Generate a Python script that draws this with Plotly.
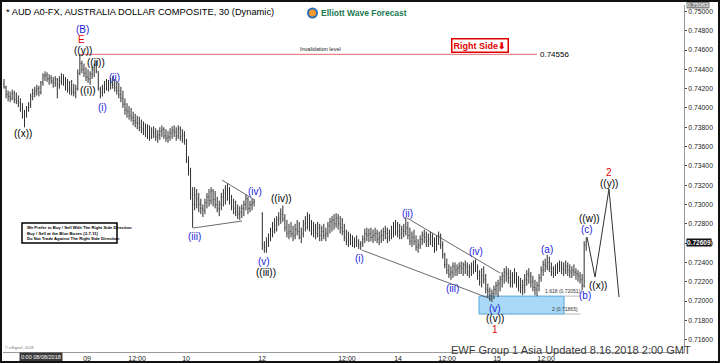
import plotly.graph_objects as go

# ---------------- data (AUD A0-FX, 30 min bars) ----------------
# session 1: Aug 8 - Aug 10, session 2: Aug 12 - Aug 16 (bar index positions)
sess1_start = 0
sess2_start = 126

open_1 = [0.7425,0.7422,0.7414,0.7412,0.7410,0.7415,0.7409,0.7407,0.7405,0.7400,0.7392,0.7393,0.7400,0.7403,0.7412,0.7415,0.7418,0.7420,0.7416,0.7426,
          0.7433,0.7434,0.7430,0.7431,0.7428,0.7426,0.7430,0.7424,0.7428,0.7431,0.7426,0.7422,0.7420,0.7419,0.7417,0.7416,0.7420,0.7436,0.7446,0.7440,
          0.7436,0.7432,0.7430,0.7435,0.7440,0.7444,0.7438,0.7420,0.7416,0.7420,0.7424,0.7422,0.7426,0.7425,0.7424,0.7421,0.7418,0.7414,0.7410,0.7404,
          0.7398,0.7396,0.7392,0.7390,0.7387,0.7385,0.7384,0.7380,0.7378,0.7376,0.7375,0.7372,0.7370,0.7376,0.7374,0.7370,0.7372,0.7376,0.7378,0.7371,
          0.7369,0.7370,0.7374,0.7377,0.7375,0.7371,0.7378,0.7370,0.7372,0.7366,0.7347,0.7334,0.7310,0.7300,0.7310,0.7306,0.7300,0.7296,0.7294,0.7302,
          0.7308,0.7304,0.7314,0.7305,0.7300,0.7296,0.7300,0.7308,0.7312,0.7316,0.7310,0.7304,0.7298,0.7296,0.7292,0.7290,0.7292,0.7296,0.7300,0.7306,
          0.7296,0.7300,0.7302]
high_1 = [0.7430,0.7423,0.7418,0.7417,0.7419,0.7418,0.7416,0.7413,0.7410,0.7405,0.7398,0.7402,0.7406,0.7415,0.7420,0.7422,0.7424,0.7423,0.7428,0.7436,
          0.7438,0.7437,0.7435,0.7434,0.7432,0.7433,0.7431,0.7433,0.7436,0.7435,0.7432,0.7430,0.7428,0.7429,0.7425,0.7424,0.7440,0.7456,0.7449,0.7446,
          0.7442,0.7440,0.7438,0.7443,0.7446,0.7449,0.7438,0.7422,0.7424,0.7428,0.7430,0.7429,0.7431,0.7433,0.7430,0.7428,0.7426,0.7422,0.7418,0.7410,
          0.7405,0.7402,0.7400,0.7396,0.7394,0.7392,0.7391,0.7388,0.7386,0.7384,0.7383,0.7382,0.7380,0.7381,0.7379,0.7377,0.7380,0.7382,0.7380,0.7378,
          0.7376,0.7379,0.7381,0.7382,0.7380,0.7382,0.7381,0.7378,0.7376,0.7368,0.7350,0.7338,0.7318,0.7318,0.7316,0.7312,0.7306,0.7300,0.7306,0.7312,
          0.7316,0.7318,0.7316,0.7314,0.7308,0.7304,0.7312,0.7316,0.7320,0.7322,0.7318,0.7310,0.7306,0.7304,0.7300,0.7298,0.7300,0.7304,0.7310,0.7308,
          0.7304,0.7306,0.7305]
low_1 = [0.7420,0.7410,0.7407,0.7406,0.7408,0.7405,0.7404,0.7401,0.7396,0.7389,0.7380,0.7390,0.7396,0.7400,0.7408,0.7411,0.7413,0.7412,0.7414,0.7423,
         0.7428,0.7427,0.7424,0.7425,0.7421,0.7422,0.7410,0.7420,0.7424,0.7423,0.7418,0.7416,0.7414,0.7413,0.7412,0.7410,0.7418,0.7434,0.7436,0.7432,
         0.7428,0.7426,0.7424,0.7430,0.7432,0.7436,0.7418,0.7410,0.7412,0.7415,0.7418,0.7417,0.7419,0.7420,0.7417,0.7414,0.7410,0.7406,0.7400,0.7393,
         0.7390,0.7388,0.7386,0.7382,0.7380,0.7378,0.7376,0.7374,0.7372,0.7370,0.7368,0.7366,0.7368,0.7369,0.7366,0.7364,0.7367,0.7370,0.7368,0.7365,
         0.7364,0.7366,0.7368,0.7370,0.7366,0.7368,0.7366,0.7364,0.7362,0.7343,0.7330,0.7305,0.7276,0.7294,0.7296,0.7292,0.7290,0.7287,0.7290,0.7296,
         0.7298,0.7300,0.7298,0.7296,0.7292,0.7288,0.7294,0.7298,0.7300,0.7304,0.7300,0.7294,0.7290,0.7288,0.7285,0.7284,0.7286,0.7288,0.7294,0.7290,
         0.7292,0.7294,0.7298]
close_1 = [0.7422,0.7414,0.7412,0.7410,0.7415,0.7409,0.7407,0.7405,0.7400,0.7392,0.7393,0.7400,0.7403,0.7412,0.7415,0.7418,0.7420,0.7416,0.7426,0.7433,
           0.7434,0.7430,0.7431,0.7428,0.7426,0.7430,0.7424,0.7428,0.7431,0.7426,0.7422,0.7420,0.7419,0.7417,0.7416,0.7420,0.7436,0.7446,0.7440,0.7436,
           0.7432,0.7430,0.7435,0.7440,0.7444,0.7438,0.7420,0.7416,0.7420,0.7424,0.7422,0.7426,0.7425,0.7424,0.7421,0.7418,0.7414,0.7410,0.7404,0.7398,
           0.7396,0.7392,0.7390,0.7387,0.7385,0.7384,0.7380,0.7378,0.7376,0.7375,0.7372,0.7370,0.7376,0.7374,0.7370,0.7372,0.7376,0.7378,0.7371,0.7369,
           0.7370,0.7374,0.7377,0.7375,0.7371,0.7378,0.7370,0.7372,0.7366,0.7347,0.7334,0.7310,0.7300,0.7310,0.7306,0.7300,0.7296,0.7294,0.7302,0.7308,
           0.7304,0.7314,0.7305,0.7300,0.7296,0.7300,0.7308,0.7312,0.7316,0.7310,0.7304,0.7298,0.7296,0.7292,0.7290,0.7292,0.7296,0.7300,0.7306,0.7296,
           0.7300,0.7302,0.7303]

open_2 = [0.7290,0.7258,0.7256,0.7262,0.7266,0.7272,0.7278,0.7274,0.7284,0.7286,0.7290,0.7285,0.7276,0.7270,0.7272,0.7270,0.7268,0.7274,0.7272,0.7266,
          0.7270,0.7280,0.7276,0.7286,0.7278,0.7272,0.7274,0.7270,0.7276,0.7268,0.7272,0.7268,0.7270,0.7278,0.7282,0.7284,0.7280,0.7286,0.7280,0.7276,
          0.7272,0.7266,0.7262,0.7264,0.7262,0.7260,0.7262,0.7260,0.7258,0.7260,0.7264,0.7270,0.7268,0.7270,0.7266,0.7268,0.7270,0.7264,0.7266,0.7268,
          0.7272,0.7270,0.7266,0.7270,0.7274,0.7278,0.7280,0.7272,0.7270,0.7274,0.7272,0.7276,0.7268,0.7262,0.7266,0.7262,0.7256,0.7258,0.7264,0.7268,
          0.7266,0.7262,0.7264,0.7266,0.7260,0.7254,0.7264,0.7268,0.7258,0.7248,0.7238,0.7232,0.7228,0.7230,0.7236,0.7232,0.7234,0.7236,0.7234,0.7238,
          0.7236,0.7230,0.7234,0.7236,0.7238,0.7234,0.7226,0.7220,0.7226,0.7222,0.7212,0.7210,0.7206,0.7208,0.7212,0.7216,0.7218,0.7222,0.7226,0.7230,
          0.7228,0.7224,0.7220,0.7226,0.7228,0.7218,0.7216,0.7214,0.7216,0.7222,0.7228,0.7226,0.7220,0.7214,0.7212,0.7216,0.7224,0.7232,0.7238,0.7236,
          0.7240,0.7234,0.7230,0.7232,0.7234,0.7236,0.7238,0.7234,0.7232,0.7236,0.7232,0.7230,0.7232,0.7230,0.7228,0.7226,0.7222,0.7216,0.7258]
high_2 = [0.7292,0.7262,0.7266,0.7270,0.7276,0.7282,0.7286,0.7288,0.7292,0.7296,0.7299,0.7290,0.7284,0.7280,0.7282,0.7278,0.7280,0.7284,0.7282,0.7276,
          0.7284,0.7288,0.7292,0.7290,0.7284,0.7282,0.7280,0.7282,0.7280,0.7278,0.7280,0.7276,0.7282,0.7286,0.7288,0.7290,0.7291,0.7290,0.7288,0.7286,
          0.7280,0.7274,0.7272,0.7270,0.7268,0.7266,0.7268,0.7264,0.7262,0.7268,0.7275,0.7276,0.7275,0.7276,0.7274,0.7276,0.7274,0.7272,0.7274,0.7276,
          0.7278,0.7276,0.7274,0.7278,0.7282,0.7284,0.7282,0.7280,0.7278,0.7280,0.7287,0.7282,0.7276,0.7272,0.7274,0.7268,0.7264,0.7268,0.7272,0.7274,
          0.7272,0.7270,0.7272,0.7270,0.7266,0.7268,0.7272,0.7270,0.7262,0.7250,0.7244,0.7238,0.7236,0.7240,0.7240,0.7238,0.7240,0.7241,0.7240,0.7242,
          0.7240,0.7238,0.7240,0.7242,0.7243,0.7238,0.7232,0.7234,0.7236,0.7228,0.7218,0.7214,0.7212,0.7216,0.7220,0.7222,0.7226,0.7230,0.7234,0.7236,
          0.7234,0.7232,0.7230,0.7234,0.7230,0.7226,0.7224,0.7222,0.7228,0.7232,0.7234,0.7230,0.7226,0.7222,0.7220,0.7228,0.7236,0.7242,0.7244,0.7248,
          0.7246,0.7240,0.7236,0.7238,0.7240,0.7242,0.7241,0.7240,0.7242,0.7240,0.7238,0.7236,0.7238,0.7234,0.7232,0.7230,0.7228,0.7262,0.7266]
low_2 = [0.7253,0.7250,0.7250,0.7256,0.7262,0.7266,0.7270,0.7272,0.7278,0.7280,0.7282,0.7272,0.7266,0.7264,0.7266,0.7262,0.7264,0.7268,0.7264,0.7260,
         0.7266,0.7272,0.7274,0.7272,0.7268,0.7266,0.7264,0.7266,0.7262,0.7262,0.7264,0.7262,0.7266,0.7270,0.7272,0.7274,0.7276,0.7274,0.7270,0.7268,
         0.7262,0.7258,0.7256,0.7258,0.7256,0.7255,0.7256,0.7254,0.7253,0.7256,0.7260,0.7262,0.7261,0.7262,0.7260,0.7262,0.7260,0.7258,0.7260,0.7262,
         0.7264,0.7260,0.7262,0.7264,0.7266,0.7268,0.7266,0.7264,0.7264,0.7266,0.7268,0.7264,0.7258,0.7256,0.7258,0.7252,0.7250,0.7254,0.7258,0.7260,
         0.7256,0.7256,0.7258,0.7256,0.7250,0.7252,0.7258,0.7254,0.7244,0.7234,0.7228,0.7224,0.7222,0.7224,0.7226,0.7226,0.7228,0.7228,0.7226,0.7228,
         0.7226,0.7224,0.7226,0.7228,0.7230,0.7222,0.7216,0.7214,0.7218,0.7208,0.7204,0.7200,0.7199,0.7202,0.7206,0.7204,0.7210,0.7214,0.7218,0.7220,
         0.7218,0.7214,0.7214,0.7218,0.7214,0.7210,0.7208,0.7206,0.7208,0.7216,0.7218,0.7214,0.7210,0.7206,0.7205,0.7210,0.7220,0.7226,0.7230,0.7232,
         0.7230,0.7226,0.7224,0.7226,0.7228,0.7230,0.7228,0.7226,0.7228,0.7226,0.7224,0.7224,0.7226,0.7222,0.7220,0.7218,0.7211,0.7214,0.7252]
close_2 = [0.7258,0.7256,0.7262,0.7266,0.7272,0.7278,0.7274,0.7284,0.7286,0.7290,0.7285,0.7276,0.7270,0.7272,0.7270,0.7268,0.7274,0.7272,0.7266,0.7270,
           0.7280,0.7276,0.7286,0.7278,0.7272,0.7274,0.7270,0.7276,0.7268,0.7272,0.7268,0.7270,0.7278,0.7282,0.7284,0.7280,0.7286,0.7280,0.7276,0.7272,
           0.7266,0.7262,0.7264,0.7262,0.7260,0.7262,0.7260,0.7258,0.7260,0.7264,0.7270,0.7268,0.7270,0.7266,0.7268,0.7270,0.7264,0.7266,0.7268,0.7272,
           0.7270,0.7266,0.7270,0.7274,0.7278,0.7280,0.7272,0.7270,0.7274,0.7272,0.7276,0.7268,0.7262,0.7266,0.7262,0.7256,0.7258,0.7264,0.7268,0.7266,
           0.7262,0.7264,0.7266,0.7260,0.7254,0.7264,0.7268,0.7258,0.7248,0.7238,0.7232,0.7228,0.7230,0.7236,0.7232,0.7234,0.7236,0.7234,0.7238,0.7236,
           0.7230,0.7234,0.7236,0.7238,0.7234,0.7226,0.7220,0.7226,0.7222,0.7212,0.7210,0.7206,0.7208,0.7212,0.7216,0.7218,0.7222,0.7226,0.7230,0.7228,
           0.7224,0.7220,0.7226,0.7228,0.7218,0.7216,0.7214,0.7216,0.7222,0.7228,0.7226,0.7220,0.7214,0.7212,0.7216,0.7224,0.7232,0.7238,0.7236,0.7240,
           0.7234,0.7230,0.7232,0.7234,0.7236,0.7238,0.7234,0.7232,0.7236,0.7232,0.7230,0.7232,0.7230,0.7228,0.7226,0.7222,0.7216,0.7258,0.7261]

# x-axis tick labels (bar-index positions)
tick_pos = [40.5, 64.9, 88.8, 125.9, 167.3, 192.2, 216.1, 240.5, 264.4]
tick_txt = ["09", "12:00", "10", "12", "12:00", "14", "12:00", "15", "12:00"]
y_ticks = [0.716, 0.718, 0.720, 0.722, 0.724, 0.726, 0.728, 0.730, 0.732, 0.734,
           0.736, 0.738, 0.740, 0.742, 0.744, 0.746, 0.748, 0.750]

invalidation = 0.74556
invalid_from, invalid_to = 37.1, 260.0
last_price = 0.72609
axis_top_price = 0.75063

# blue box (fib extension 1.618 - 2.0)
box_x = [231.7, 273.2]
box_top, box_bot = 0.72051, 0.71865

# projected path (c)->((x))->((y))->down
proj_x = [284.4, 288.3, 295.1, 300.0]
proj_p = [0.72663, 0.72249, 0.73160, 0.72041]

# trend lines (bar index, price)
tri_upper = ([106.3, 122.4], [0.73254, 0.73046])
tri_lower = ([92.2, 116.1], [0.72756, 0.72829])
ch_lower = ([174.6, 237.6], [0.72528, 0.72021])
ch_upper = ([196.6, 242.0], [0.72860, 0.72290])

# wave labels: (text, bar index, price, colour)
BLUE, RED, BLACK = "#1c1cd8", "#e00000", "#000000"
wave_labels = [
    ("(B)", 38.5, 0.74818, BLUE), ("E", 38.0, 0.74714, RED), ("((y))", 38.5, 0.74600, BLACK),
    ("((ii))", 44.9, 0.74476, BLACK), ("((i))", 41.0, 0.74186, BLACK), ("(i)", 47.8, 0.74000, BLUE),
    ("(ii)", 54.1, 0.74321, BLUE), ("((x))", 9.3, 0.73740, BLACK), ("(iii)", 92.7, 0.72673, BLUE),
    ("(iv)", 122.4, 0.73140, BLUE), ("((iv))", 135.6, 0.73067, BLACK), ("(v)", 126.8, 0.72414, BLUE),
    ("((iii))", 127.8, 0.72300, BLACK), ("(i)", 173.2, 0.72445, BLUE), ("(ii)", 196.6, 0.72912, BLUE),
    ("(iii)", 219.0, 0.72135, BLUE), ("(iv)", 230.2, 0.72518, BLUE), ("(v)", 239.5, 0.71927, BLUE),
    ("((v))", 239.5, 0.71814, BLACK), ("1", 239.5, 0.71700, RED), ("(a)", 264.9, 0.72539, BLUE),
    ("(b)", 283.4, 0.72062, BLUE), ("(c)", 284.4, 0.72746, BLUE), ("((w))", 285.4, 0.72850, BLACK),
    ("((x))", 289.8, 0.72166, BLACK), ("2", 295.1, 0.73336, RED), ("((y))", 295.1, 0.73222, BLACK),
]

# ---------------- figure ----------------
# page has a 2px dark frame; the figure sits inside it
FRAME = 2
W, H = 720 - 2 * FRAME, 363 - 2 * FRAME
PL, PR, PT, PB = 3, 684, 5, 352          # plot area in page pixels
ML, MR, MT, MB = PL - FRAME, W + FRAME - PR, PT - FRAME, H + FRAME - PB
PW, PH = W - ML - MR, H - MT - MB


def px(x):
    """page pixel x -> paper fraction"""
    return (x - PL) / PW


def py(y):
    """page pixel y -> paper fraction"""
    return (PB - y) / PH


x1 = [sess1_start + i for i in range(len(open_1))]
x2 = [sess2_start + i for i in range(len(open_2))]

FONT = "Arial, Liberation Sans, sans-serif"
fig = go.Figure()
fig.add_trace(go.Ohlc(
    x=x1 + x2, open=open_1 + open_2, high=high_1 + high_2, low=low_1 + low_2, close=close_1 + close_2,
    increasing=dict(line=dict(color="#2e2e2e", width=1)),
    decreasing=dict(line=dict(color="#2e2e2e", width=1)),
    tickwidth=0.25, hoverinfo="skip", showlegend=False))

line_style = dict(color="#444444", width=0.8)
for xs, ys in (tri_upper, tri_lower, ch_lower, ch_upper):
    fig.add_trace(go.Scatter(x=xs, y=ys, mode="lines", line=line_style, hoverinfo="skip", showlegend=False))

fig.add_trace(go.Scatter(x=proj_x, y=proj_p, mode="lines", line=dict(color="#333333", width=1),
                         hoverinfo="skip", showlegend=False))

shapes = []
# invalidation level
shapes.append(dict(type="line", xref="x", yref="y", x0=invalid_from, x1=invalid_to, y0=invalidation, y1=invalidation,
                   line=dict(color="#e06a6a", width=1)))
# blue box
shapes.append(dict(type="rect", xref="x", yref="y", x0=box_x[0], x1=box_x[1], y0=box_bot, y1=box_top,
                   fillcolor="#a9d9f6", line=dict(color="#5aa8dc", width=1), layer="below"))
# fib level lines to the right of the box
for lv in (box_top, box_bot):
    shapes.append(dict(type="line", xref="x", yref="y", x0=box_x[1], x1=box_x[1] + 8, y0=lv, y1=lv,
                       line=dict(color="#bbbbbb", width=1)))
# legend box
shapes.append(dict(type="rect", xref="paper", yref="paper", x0=px(22), x1=px(117), y0=py(243), y1=py(223),
                   fillcolor="white", line=dict(color="black", width=1.5)))

ann = []
for t, xx, yy, c in wave_labels:
    ann.append(dict(x=xx, y=yy, xref="x", yref="y", text=t, showarrow=False,
                    font=dict(family=FONT, size=10, color=c)))

# title
ann.append(dict(x=px(4), y=py(12), xref="paper", yref="paper", xanchor="left", yanchor="middle", showarrow=False,
                text="* AUD A0-FX, AUSTRALIA DOLLAR COMPOSITE, 30 (Dynamic)",
                font=dict(family=FONT, size=9.3, color="black")))
# logo
shapes.append(dict(type="circle", xref="paper", yref="paper", x0=px(308), x1=px(317), y0=py(17.5), y1=py(8.5),
                   fillcolor="#f29a2e", line=dict(color="#2b6fb6", width=2)))
ann.append(dict(x=px(319), y=py(13), xref="paper", yref="paper", xanchor="left", yanchor="middle", showarrow=False,
                text="<b>Elliott Wave Forecast</b>", font=dict(family=FONT, size=8.5, color="#1b7a52")))
# invalidation text
ann.append(dict(x=(320 - 4) / 2.05, y=invalidation, xref="x", yref="y", yanchor="bottom", showarrow=False,
                text="Invalidation level", font=dict(family=FONT, size=5.5, color="#222")))
ann.append(dict(x=invalid_to + 0.5, y=invalidation, xref="x", yref="y", xanchor="left", yanchor="middle",
                showarrow=False, text=f"{invalidation:.5f}", font=dict(family=FONT, size=8, color="black")))
# right side box
ann.append(dict(x=px(480), y=py(46), xref="paper", yref="paper", xanchor="center", yanchor="middle", showarrow=False,
                text="<b>Right Side⬇</b>", font=dict(family=FONT, size=9, color="#e00000"),
                bordercolor="#e00000", borderwidth=1.5, borderpad=1, bgcolor="white"))
# fib texts
ann.append(dict(x=box_x[1] - 0.5, y=box_top, xref="x", yref="y", yanchor="bottom", showarrow=False,
                text=f"1.618 ({box_top:.5f})", font=dict(family=FONT, size=5, color="#333")))
ann.append(dict(x=box_x[1] + 0.3, y=box_bot, xref="x", yref="y", yanchor="bottom", showarrow=False,
                text=f"2 ({box_bot:.5f})", font=dict(family=FONT, size=5, color="#333")))
# legend text
for i, t in enumerate(["We Prefer to Buy / Sell With The Right Side Direction",
                       "Buy / Sell at the Blue Boxes (3-7-11)",
                       "Do Not Trade Against The Right Side Direction"]):
    ann.append(dict(x=px(25), y=py(228 + 5 * i), xref="paper", yref="paper", xanchor="left", yanchor="middle",
                    showarrow=False, text=f"<b>{t}</b>", font=dict(family=FONT, size=4.2, color="black")))
# bottom text
ann.append(dict(x=px(693), y=py(350), xref="paper", yref="paper", xanchor="right", yanchor="middle", showarrow=False,
                text="EWF Group 1 Asia Updated 8.16.2018 2:00 GMT",
                font=dict(family=FONT, size=11, color="#3a3a3a")))
ann.append(dict(x=px(3), y=py(347), xref="paper", yref="paper", xanchor="left", yanchor="middle", showarrow=False,
                text="© eSignal, 2018", font=dict(family=FONT, size=4, color="#777")))
ann.append(dict(x=px(19), y=py(357), xref="paper", yref="paper", xanchor="left", yanchor="middle", showarrow=False,
                text="0:00 08/08/2018", font=dict(family=FONT, size=5.5, color="white"), bgcolor="#3a3a3a"))
# price boxes on axis
ann.append(dict(x=px(686), y=last_price, xref="paper", yref="y", xanchor="left", yanchor="middle", showarrow=False,
                text=f"<b>{last_price:.5f}</b>", font=dict(family=FONT, size=6.5, color="white"), bgcolor="#111111",
                borderpad=0))
ann.append(dict(x=px(686), y=axis_top_price, xref="paper", yref="y", xanchor="left", yanchor="middle", showarrow=False,
                text=f"{axis_top_price:.5f}", font=dict(family=FONT, size=6, color="white"), bgcolor="#888888",
                borderpad=0))

fig.update_layout(
    width=W, height=H, margin=dict(l=ML, r=MR, t=MT, b=MB, autoexpand=False),
    paper_bgcolor="white", plot_bgcolor="white", showlegend=False,
    shapes=shapes, annotations=ann,
    xaxis=dict(range=[-0.49, 331.7], rangeslider=dict(visible=False), showgrid=False, zeroline=False,
               automargin=False, tickmode="array", tickvals=tick_pos, ticktext=tick_txt, ticks="",
               ticklabelstandoff=0, showline=True,
               linecolor="#9a9a9a", linewidth=1, tickfont=dict(family=FONT, size=7, color="#222")),
    yaxis=dict(range=[0.71472, 0.75067], side="right", showgrid=False, zeroline=False, automargin=False,
               tickmode="array", tickvals=y_ticks, tickformat=".5f", ticks="outside", ticklen=2,
               tickcolor="#444", showline=True, linecolor="#9a9a9a", linewidth=1,
               tickfont=dict(family=FONT, size=6.8, color="#222")),
)

fig.write_html(
    "out.html", config={"displayModeBar": False},
    post_script=("document.documentElement.style.background='#111';"
                 "document.body.style.margin='0';document.body.style.padding='%dpx';"
                 "document.body.style.background='#111';document.body.style.overflow='hidden';" % FRAME))
